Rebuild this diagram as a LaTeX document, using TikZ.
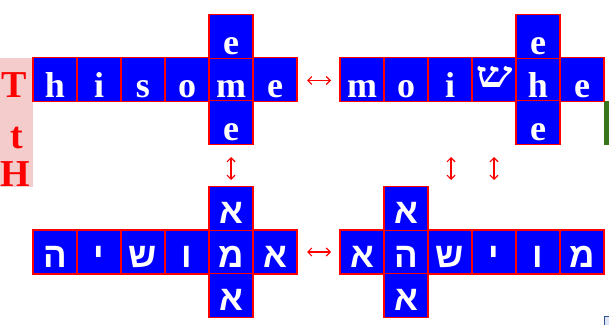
\documentclass[tikz,border=0pt]{standalone}
\usepackage{fontspec}
\setmainfont{Liberation Serif}
\newfontfamily\hebsans{Liberation Sans}
\newfontfamily\hebwide[FakeStretch=1.45]{Liberation Serif}
\usetikzlibrary{arrows.meta}
\definecolor{pinkbg}{HTML}{F4CCCC}
\definecolor{darkgreen}{HTML}{38761D}
\definecolor{edgeblue}{HTML}{2F5597}
\definecolor{lightfill}{HTML}{DDE6F4}
\tikzset{
  cell/.style={draw=red, line width=1.2pt, fill=blue, minimum width=44pt, minimum height=44pt,
    inner sep=0pt, text=white, font=\bfseries\fontsize{36}{36}\selectfont, text height=40pt, text depth=4pt},
  hcell/.style={cell, font=\hebsans\bfseries\fontsize{35}{35}\selectfont, text height=37pt, text depth=7pt},
  shincell/.style={cell, font=\hebwide\bfseries\fontsize{36}{36}\selectfont, text height=30pt, text depth=14pt},
  redletter/.style={text=red, font=\bfseries\fontsize{38}{38}\selectfont, inner sep=0pt, anchor=base},
  arr/.style={red, line width=1.1pt, {Straight Barb[length=4pt,width=8pt]}-{Straight Barb[length=4pt,width=8pt]}},
}
\begin{document}
\begin{tikzpicture}[x=1pt, y=-1pt]
\useasboundingbox (0,0) rectangle (609,324);
% left pink label
\fill[pinkbg] (0,58) rectangle (33,187);
\node[redletter] (lT) at (14.5,97) {T};
\node[redletter] (lt) at (17,148) {t};
\node[redletter] (lH) at (15.5,186) {H};
% right edge fragments
\fill[darkgreen] (604,101) rectangle (612,145);
\draw[edgeblue, line width=1.5pt, fill=lightfill] (604.5,316.5) rectangle (614,330);
% top-left cross
\node[cell] (a1) at (55,79.5) {h};
\node[cell] (a2) at (99,79.5) {i};
\node[cell] (a3) at (143,79.5) {s};
\node[cell] (a4) at (187,79.5) {o};
\node[cell] (a5) at (231,79.5) {m};
\node[cell] (a6) at (275,79.5) {e};
\node[cell] (at) at (231,36.5) {e};
\node[cell] (ab) at (231,122.5) {e};
% top-right cross
\node[cell] (b1) at (362,79.5) {m};
\node[cell] (b2) at (406,79.5) {o};
\node[cell] (b3) at (450,79.5) {i};
\node[shincell] (b4) at (494,79.5) {ש};
\node[cell] (b5) at (538,79.5) {h};
\node[cell] (b6) at (582,79.5) {e};
\node[cell] (bt) at (538,36.5) {e};
\node[cell] (bb) at (538,122.5) {e};
% bottom-left cross
\node[hcell] (c1) at (55,252) {ה};
\node[hcell] (c2) at (99,252) {י};
\node[hcell] (c3) at (143,252) {ש};
\node[hcell] (c4) at (187,252) {ו};
\node[hcell] (c5) at (231,252) {מ};
\node[hcell] (c6) at (275,252) {א};
\node[hcell] (ct) at (231,208.5) {א};
\node[hcell] (cb) at (231,295.5) {א};
% bottom-right cross
\node[hcell] (d1) at (362,252) {א};
\node[hcell] (d2) at (406,252) {ה};
\node[hcell] (d3) at (450,252) {ש};
\node[hcell] (d4) at (494,252) {י};
\node[hcell] (d5) at (538,252) {ו};
\node[hcell] (d6) at (582,252) {מ};
\node[hcell] (dt) at (406,208.5) {א};
\node[hcell] (db) at (406,295.5) {א};
% arrows
\coordinate (h1l) at (307,80.5);
\coordinate (h1r) at (331,80.5);
\coordinate (h2l) at (307,252);
\coordinate (h2r) at (331,252);
\coordinate (v1t) at (231,157);
\coordinate (v1b) at (231,180);
\coordinate (v2t) at (451,157);
\coordinate (v2b) at (451,180);
\coordinate (v3t) at (494,157);
\coordinate (v3b) at (494,180);
\draw[arr] (h1l) -- (h1r);
\draw[arr] (h2l) -- (h2r);
\draw[arr] (v1t) -- (v1b);
\draw[arr] (v2t) -- (v2b);
\draw[arr] (v3t) -- (v3b);
\end{tikzpicture}
\end{document}
